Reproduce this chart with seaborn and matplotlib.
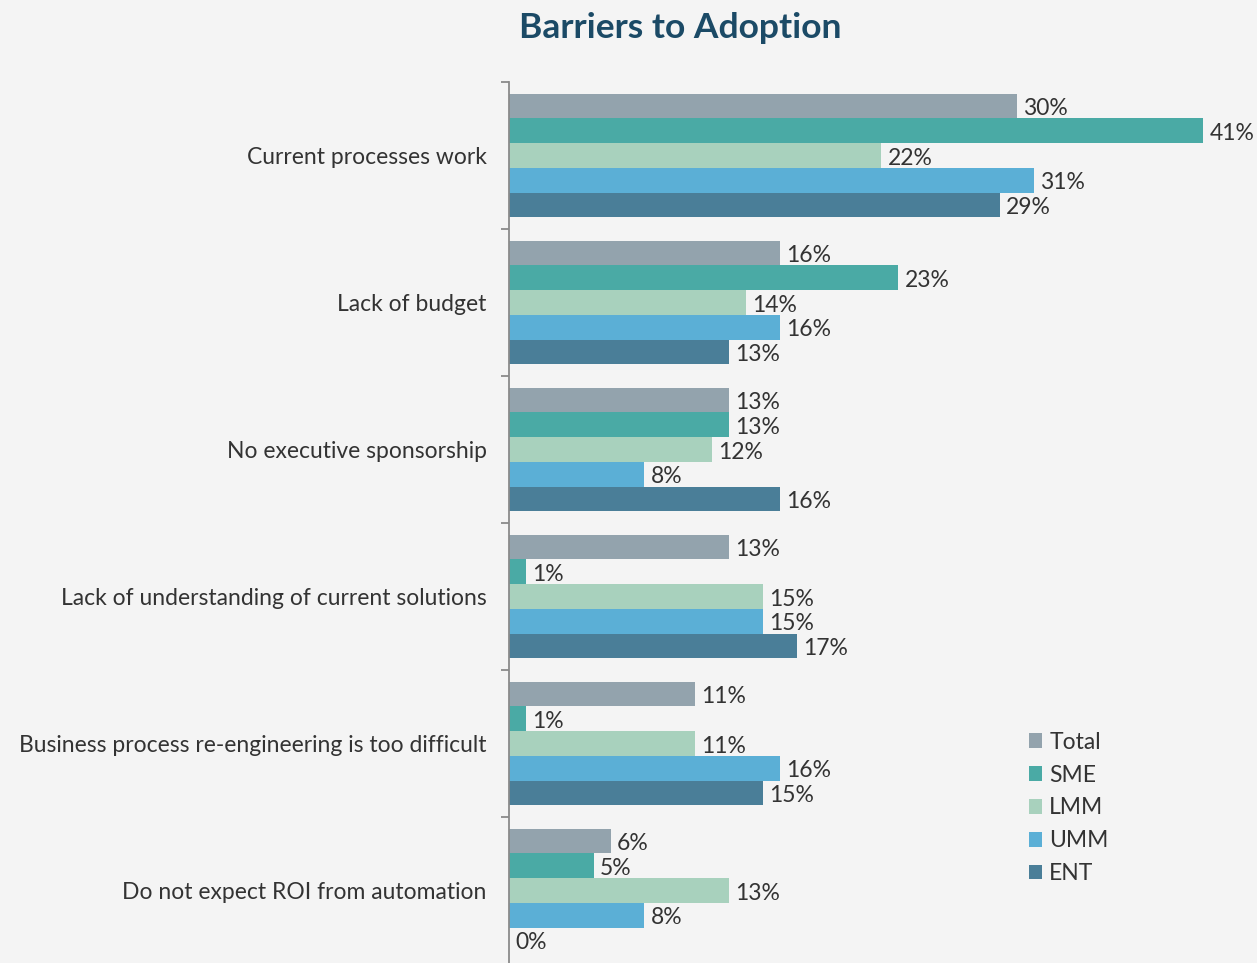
import matplotlib
matplotlib.use("Agg")
import matplotlib.pyplot as plt
from matplotlib.patches import Patch
import seaborn as sns
import pandas as pd

categories = [
    "Current processes work",
    "Lack of budget",
    "No executive sponsorship",
    "Lack of understanding of current solutions",
    "Business process re-engineering is too difficult",
    "Do not expect ROI from automation",
]
segments = ["Total", "SME", "LMM", "UMM", "ENT"]
total = [30, 16, 13, 13, 11, 6]
sme = [41, 23, 13, 1, 1, 5]
lmm = [22, 14, 12, 15, 11, 13]
umm = [31, 16, 8, 15, 16, 8]
ent = [29, 13, 16, 17, 15, 0]

colors = ["#93a3ad", "#4aaaa5", "#a8d1bd", "#5bafd6", "#4a7e98"]
bg = "#f4f4f4"
text_color = "#333333"

series = dict(zip(segments, [total, sme, lmm, umm, ent]))
rows = []
for seg, vals in series.items():
    for cat, v in zip(categories, vals):
        rows.append({"Barrier": cat, "Segment": seg, "Share": v})
df = pd.DataFrame(rows)

sns.set_theme(style="white")
plt.rcParams["font.family"] = ["Lato", "DejaVu Sans"]

fig = plt.figure(figsize=(12.57, 9.63), dpi=100, facecolor=bg)
W, H = 1257, 963
ax = fig.add_axes([509 / W, -1 / H, (1225 - 509) / W, (963 - 82 + 1) / H])
ax.set_facecolor(bg)

sns.barplot(
    data=df, y="Barrier", x="Share", hue="Segment", order=categories,
    hue_order=segments, palette=colors, orient="h", width=0.84, gap=0,
    saturation=1, legend=False, ax=ax, errorbar=None, linewidth=0,
    edgecolor="none",
)

for container in ax.containers:
    labels = ax.bar_label(container,
                          labels=[f"{v:.0f}%" for v in container.datavalues],
                          padding=4.5, fontsize=16.5, color=text_color)
    for lab in labels:
        x, y = lab.xyann
        lab.xyann = (x, y - 2)

ax.set_xlim(0, (1225 - 509) / (694 / 41))
ax.set_ylim(5.5, -0.5)
ax.set_xlabel("")
ax.set_ylabel("")
ax.set_xticks([])
for side in ["top", "right", "bottom"]:
    ax.spines[side].set_visible(False)
ax.spines["left"].set_color("#8a8a8a")
ax.spines["left"].set_linewidth(1.3)

ax.tick_params(axis="y", which="major", left=False, length=0, pad=16,
               labelsize=16.5, labelcolor=text_color)
ax.set_yticks([i - 0.5 for i in range(len(categories) + 1)], minor=True)
ax.tick_params(axis="y", which="minor", left=True, length=6, width=1.3,
               color="#8a8a8a")

handles = [Patch(facecolor=c, edgecolor="none", label=s) for s, c in zip(segments, colors)]
fig.legend(handles=handles, loc="upper left", bbox_to_anchor=(1008 / W, 1 - 711 / H),
           frameon=False, fontsize=16.5, handlelength=0.6, handleheight=0.6,
           handletextpad=0.3, labelspacing=0.52, labelcolor=text_color)

fig.text(680 / W, 1 - 28 / H, "Barriers to Adoption", ha="center", va="center",
         fontsize=25.5, fontweight="bold", color="#1b4a66")

fig.savefig("out.png", dpi=100, facecolor=bg)
